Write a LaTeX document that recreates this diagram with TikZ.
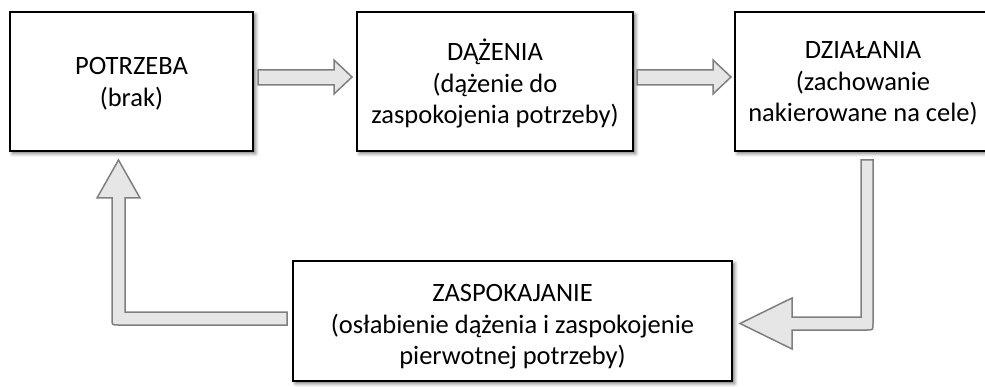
\documentclass[tikz,border=0pt]{standalone}
\usepackage{fontspec}
\setmainfont{Carlito}
\usetikzlibrary{shadows.blur}
\definecolor{arrfill}{HTML}{E6E6E6}
\definecolor{arrline}{HTML}{7F7F7F}
\tikzset{
  stagebox/.style={draw=black, line width=1.5pt, fill=white, inner sep=0pt,
    blur shadow={shadow xshift=2.5pt, shadow yshift=-2.5pt, shadow blur radius=3.5pt, shadow opacity=55}},
  stagetext/.style={align=center, inner sep=0pt, font=\fontsize{26.5}{31.5}\selectfont},
  blockarrow/.style={draw=arrline, fill=arrfill, line width=1.5pt, line join=miter}
}
\begin{document}
\begin{tikzpicture}[x=1pt,y=-1pt]
\clip (0,0) rectangle (985,387);
\node[stagebox, minimum width=243pt, minimum height=139pt] (potrzeba) at (131.5,81.5) {};
\node[stagetext] (potrzebaT) at ([yshift=-2pt]potrzeba.center) {POTRZEBA\\(brak)};
\node[stagebox, minimum width=276pt, minimum height=139pt] (dazenia) at (495,81.5) {};
\node[stagetext] (dazeniaT) at ([yshift=-2pt]dazenia.center) {DĄŻENIA\\(dążenie do\\zaspokojenia potrzeby)};
\node[stagebox, minimum width=256pt, minimum height=139pt] (dzialania) at (863,81.5) {};
\node[stagetext] (dzialaniaT) at ([yshift=-2pt]dzialania.center) {DZIAŁANIA\\(zachowanie\\nakierowane na cele)};
\node[stagebox, minimum width=439pt, minimum height=120pt] (zaspokajanie) at (512.5,321) {};
\node[stagetext] (zaspokajanieT) at ([yshift=-6pt]zaspokajanie.center) {ZASPOKAJANIE\\(osłabienie dążenia i zaspokojenie\\pierwotnej potrzeby)};
% arrow potrzeba -> dazenia
\draw[blockarrow] (258,70) -- (334,70) -- (334,60) -- (352,77) -- (334,94) -- (334,85) -- (258,85) -- cycle;
% arrow dazenia -> dzialania
\draw[blockarrow] (637,70) -- (713,70) -- (713,60) -- (731,77) -- (713,94) -- (713,85) -- (637,85) -- cycle;
% arrow dzialania -> zaspokajanie
\draw[blockarrow] (861,160) -- (861,317) -- (792,317) -- (792,298) -- (740,323.5) -- (792,349) -- (792,330)
  -- (867,330) .. controls (873,330) .. (873,324) -- (873,160) -- cycle;
% arrow zaspokajanie -> potrzeba
\draw[blockarrow] (287,312) -- (125,312) -- (125,198) -- (140,198) -- (118.5,160) -- (97,198) -- (112,198)
  -- (112,319) .. controls (112,325) .. (118,325) -- (287,325) -- cycle;
\end{tikzpicture}
\end{document}
